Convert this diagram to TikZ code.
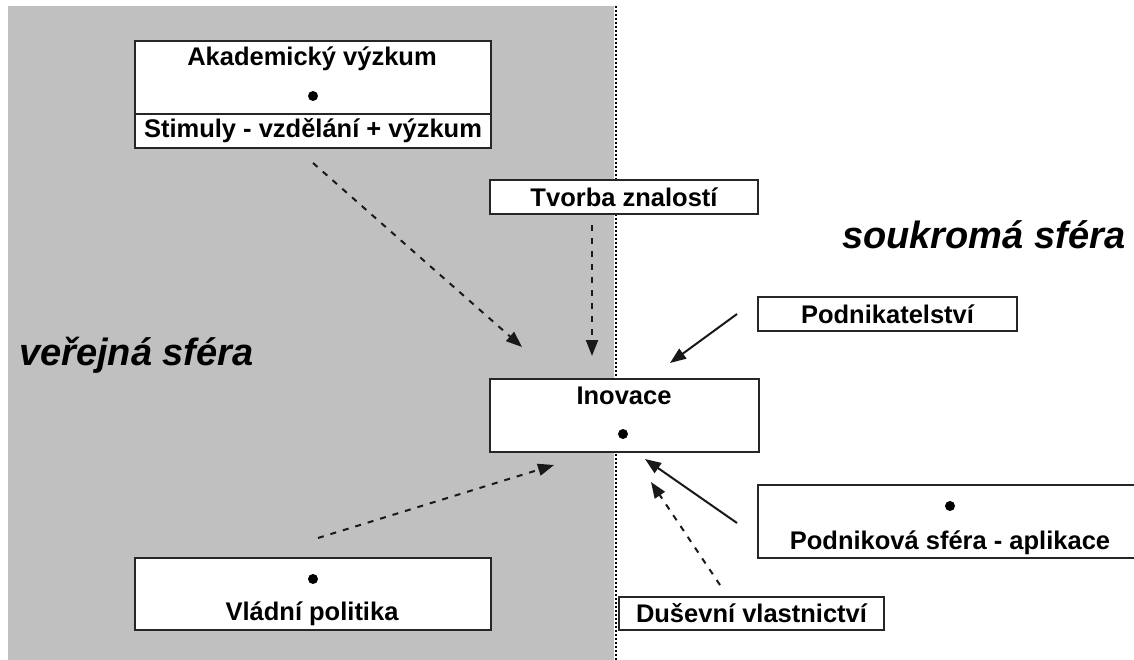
\documentclass[tikz,border=0pt]{standalone}
\usepackage{fontspec}
\setmainfont{Liberation Sans}
\usepackage{xcolor}
\usepackage{tikz}
\usetikzlibrary{arrows.meta,positioning,calc}
\definecolor{pubgray}{RGB}{192,192,192}
\tikzset{
  inov/.style={x=1pt, y=-1pt},
  i box/.style={draw=black!85, line width=2pt, fill=white, anchor=north west, inner sep=0pt,
                font=\fontsize{25.5}{29}\selectfont\bfseries},
  i txt/.style={font=\fontsize{25.5}{29}\selectfont\bfseries, anchor=base, inner sep=0pt},
  i dot/.style={circle, fill=black, inner sep=0pt, minimum size=10pt},
  i sphere/.style={font=\fontsize{38}{44}\selectfont\bfseries\itshape, anchor=base west, inner sep=0pt},
  i arr/.style={-{Triangle[length=16pt, width=12pt]}, line width=2pt, black!90},
  i dash/.style={i arr, dash pattern=on 6pt off 7pt},
  i border/.style={line width=2pt, dash pattern=on 2pt off 2pt},
}

\begin{document}
\begin{tikzpicture}[inov]
\useasboundingbox (0,0) rectangle (1134,660);
% ---- two spheres ----
\fill[white] (0,0) rectangle (1134,660);
\fill[pubgray] (8,6) rectangle (614,660);
\draw[i border] (615.5,6) -- (615.5,660);
\node[i sphere] (pub) at (19,365) {veřejná sféra};
\node[i sphere] (priv) at (842,248) {soukromá sféra};
% ---- boxes ----
\node[i box, minimum width=356, minimum height=73] (aka) at (134,40) {};
\node[i txt] (akat) at (312,66) {Akademický výzkum};
\node[i dot] (akad) at (313,96) {};
\node[i box, minimum width=356, minimum height=34] (stim) at (134,113) {Stimuly - vzdělání + výzkum};
\node[i box, minimum width=268, minimum height=34] (tvor) at (489,179) {Tvorba znalostí};
\node[i box, minimum width=269, minimum height=73] (ino) at (489,378) {};
\node[i txt] (inot) at (624,404) {Inovace};
\node[i dot] (inod) at (623,434) {};
\node[i box, minimum width=259, minimum height=34] (podn) at (757,296) {Podnikatelství};
\node[i box, minimum width=390, minimum height=73] (pods) at (757,484) {};
\node[i dot] (podsd) at (950,506) {};
\node[i txt] (podst) at (950,549) {Podniková sféra - aplikace};
\node[i box, minimum width=265, minimum height=33] (dus) at (618,596) {Duševní vlastnictví};
\node[i box, minimum width=356, minimum height=72] (vlad) at (134,557) {};
\node[i dot] (vladd) at (313,579) {};
\node[i txt] (vladt) at (312,620) {Vládní politika};
% ---- arrow ends ----
\coordinate (a1) at (313,163); \coordinate (a2) at (522,347);
\coordinate (t1) at (592,225); \coordinate (t2) at (592,356);
\coordinate (p1) at (737,314); \coordinate (p2) at (670,363);
\coordinate (v1) at (318,538); \coordinate (v2) at (554,465);
\coordinate (s1) at (737,523); \coordinate (s2) at (645,459);
\coordinate (d1) at (720,585); \coordinate (d2) at (651,482);
% ---- arrows ----
\draw[i dash] (a1) -- (a2);
\draw[i dash] (t1) -- (t2);
\draw[i arr] (p1) -- (p2);
\draw[i dash] (v1) -- (v2);
\draw[i arr] (s1) -- (s2);
\draw[i dash] (d1) -- (d2);
\end{tikzpicture}
\end{document}
